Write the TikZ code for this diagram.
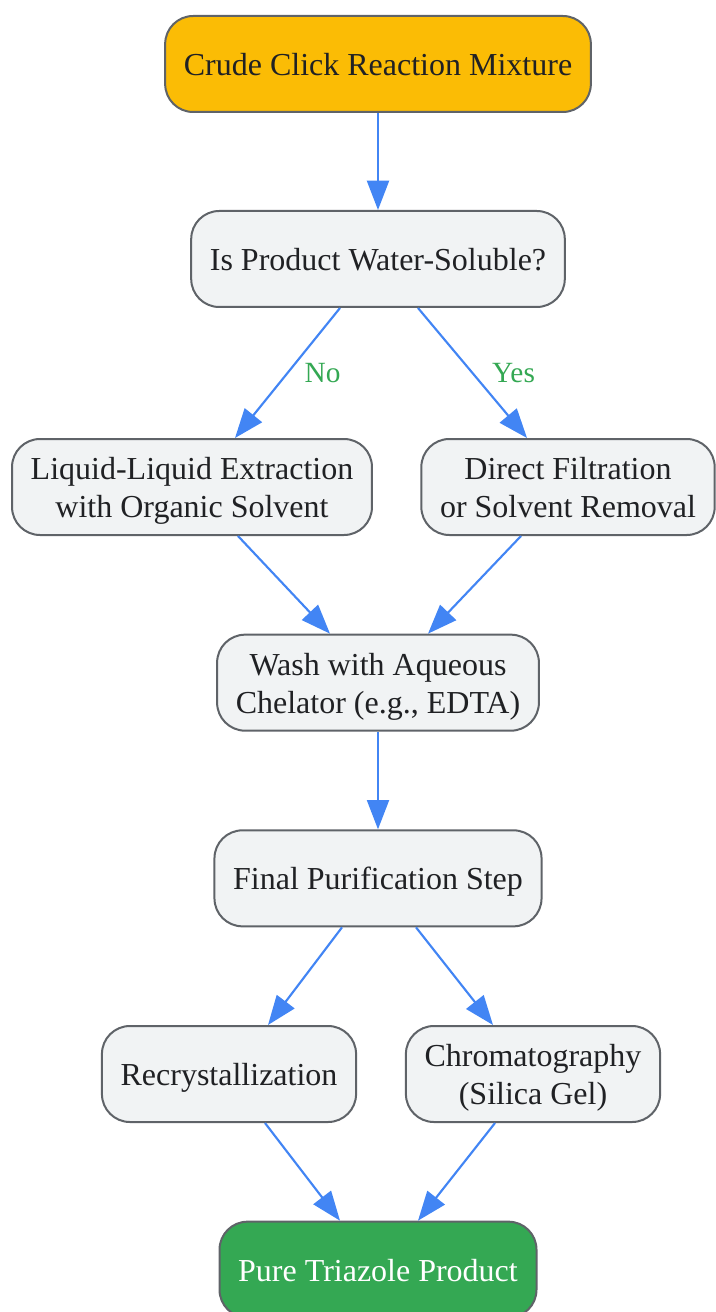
\documentclass[tikz,border=0pt]{standalone}
\usepackage{fontspec}
\setmainfont{Liberation Serif}
\usetikzlibrary{arrows.meta, positioning}
\definecolor{myyellow}{RGB}{251, 188, 5}
\definecolor{mygray}{RGB}{241, 243, 244}
\definecolor{myedge}{RGB}{95, 99, 104}
\definecolor{mygreen}{RGB}{52, 168, 83}
\definecolor{myblue}{RGB}{66, 133, 244}
\definecolor{mytext}{RGB}{32, 33, 36}
\newcommand{\nodestrut}{\rule[-5.4pt]{0pt}{28pt}}

\begin{document}
\begin{tikzpicture}[
    node distance=73.25pt,
    box/.style={rectangle, rounded corners=21pt, draw=myedge, line width=1.5pt, fill=mygray, text=mytext, minimum height=72pt, inner xsep=14pt, inner ysep=2pt, align=center, font=\fontsize{24}{28.5}\selectfont},
    edgelabel/.style={text=mygreen, inner sep=0pt, font=\fontsize{22}{26}\selectfont},
    arrow/.style={line width=1.6pt, draw=myblue, -{Triangle[length=22pt, width=16.5pt]}}
]
\useasboundingbox (0,0) rectangle (537pt,-984pt);

% Start
\node[box, fill=myyellow] (crude) at (283.5pt,-48pt) {\nodestrut Crude Click Reaction Mixture};

% Decision
\node[box, below=72.75pt of crude] (soluble) {\nodestrut Is Product Water-Soluble?};

% Work-up branches
\node[box, below=97.5pt of soluble, xshift=-139.5pt] (extract) {\nodestrut Liquid-Liquid Extraction\\\nodestrut with Organic Solvent};
\node[box, below=97.5pt of soluble, xshift=142.5pt] (filter) {\nodestrut Direct Filtration\\\nodestrut or Solvent Removal};

% Metal removal
\node[box, below=of extract, xshift=139.5pt] (wash) {\nodestrut Wash with Aqueous\\\nodestrut Chelator (e.g., EDTA)};
\node[box, below=of wash] (final) {\nodestrut Final Purification Step};

% Purification options
\node[box, below=of final, xshift=-111.75pt] (recryst) {\nodestrut Recrystallization};
\node[box, below=of final, xshift=116.25pt] (chrom) {\nodestrut Chromatography\\\nodestrut (Silica Gel)};

% Product
\node[box, fill=mygreen, text=white, below=of recryst, xshift=111.75pt] (pure) {\nodestrut Pure Triazole Product};

% Arrows
\draw[arrow] (crude) -- (soluble);
\draw[arrow] ([xshift=-28.5pt]soluble.south) -- node[edgelabel, right=12pt] {No} ([xshift=32.25pt]extract.north);
\draw[arrow] ([xshift=30pt]soluble.south) -- node[edgelabel, right=14pt] {Yes} ([xshift=-30.75pt]filter.north);
\draw[arrow] ([xshift=34.5pt]extract.south) -- ([xshift=-36pt]wash.north);
\draw[arrow] ([xshift=-35.25pt]filter.south) -- ([xshift=37.5pt]wash.north);
\draw[arrow] (wash) -- (final);
\draw[arrow] ([xshift=-27pt]final.south) -- ([xshift=29.25pt]recryst.north);
\draw[arrow] ([xshift=28.5pt]final.south) -- ([xshift=-30pt]chrom.north);
\draw[arrow] ([xshift=27pt]recryst.south) -- ([xshift=-28.5pt]pure.north);
\draw[arrow] ([xshift=-28.5pt]chrom.south) -- ([xshift=30pt]pure.north);

\end{tikzpicture}
\end{document}
